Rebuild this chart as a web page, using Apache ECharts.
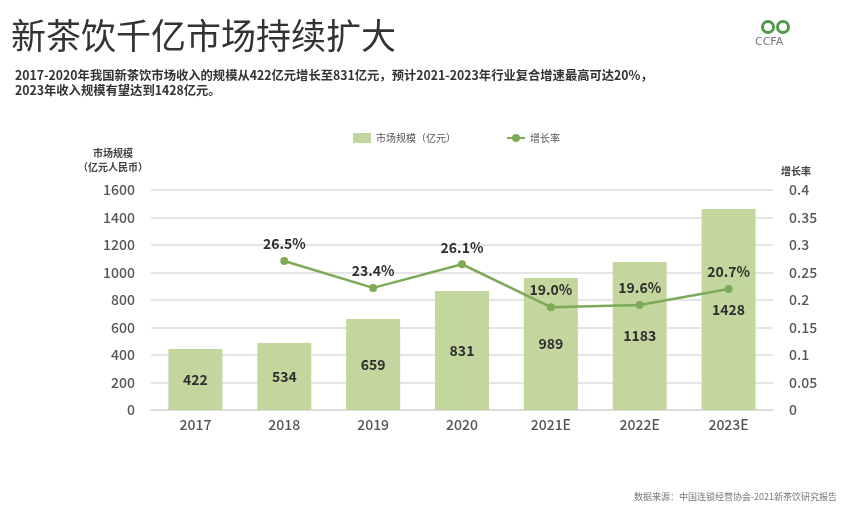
<!DOCTYPE html>
<html><head><meta charset="utf-8">
<script src="https://cdn.jsdelivr.net/npm/echarts@6/dist/echarts.min.js"></script>
<style>html,body{margin:0;padding:0;background:#fff}#c{width:864px;height:512px}</style>
</head><body><div id="c"></div>
<script>
const categories = ['2017','2018','2019','2020','2021E','2022E','2023E'];
// labelled market size values (亿元)
const marketSize = [422, 534, 659, 831, 989, 1183, 1428];
// bar heights as drawn in the picture
const barHeight = [444, 487, 662, 865, 960, 1076, 1462];
// growth rate labels and drawn point positions
const growthLabel = [null, '26.5%', '23.4%', '26.1%', '19.0%', '19.6%', '20.7%'];
const growthPoint = [null, 0.271, 0.222, 0.265, 0.187, 0.191, 0.220];
const leftTicks = [0, 200, 400, 600, 800, 1000, 1200, 1400, 1600];
const rightTicks = [0, 0.05, 0.1, 0.15, 0.2, 0.25, 0.3, 0.35, 0.4];

const chart = echarts.init(document.getElementById('c'));
const font = '"Noto Sans CJK SC", "Noto Sans", sans-serif';
chart.setOption({
  backgroundColor: '#fff',
  textStyle: { fontFamily: font },
  animation: false,
  title: [
    { text: '新茶饮千亿市场持续扩大', left: 6, top: 13,
      textStyle: { fontSize: 35, fontWeight: 'normal', color: '#333', fontFamily: font } },
    { text: '2017-2020年我国新茶饮市场收入的规模从422亿元增长至831亿元，预计2021-2023年行业复合增速最高可达20%，\n2023年收入规模有望达到1428亿元。',
      left: 10, top: 63,
      textStyle: { fontSize: 12.3, fontWeight: 'bold', color: '#333', lineHeight: 15, fontFamily: font } },
    { text: '数据来源：中国连锁经营协会-2021新茶饮研究报告', right: 22, top: 487,
      textStyle: { fontSize: 9, fontWeight: 'normal', color: '#777', fontFamily: font } }
  ],
  legend: {
    top: 128, left: 348, itemGap: 50, itemWidth: 18, itemHeight: 10,
    textStyle: { fontSize: 10, color: '#555' },
    data: [
      { name: '市场规模（亿元）', icon: 'rect' },
      { name: '增长率' }
    ]
  },
  grid: { left: 151, right: 91, top: 190, bottom: 102 },
  xAxis: {
    type: 'category', data: categories,
    axisLine: { show: true, lineStyle: { color: '#d8d8d8', width: 1.5 } },
    axisTick: { show: false },
    axisLabel: { fontSize: 14, color: '#555', margin: 8, fontWeight: 500 }
  },
  yAxis: [
    { type: 'value', min: 0, max: 1600, interval: 200,
      name: '市场规模\n（亿元人民币）', nameLocation: 'end', nameGap: 16,
      nameTextStyle: { fontSize: 10, fontWeight: 'bold', color: '#444', align: 'center', padding: [0, 0, 0, -76], lineHeight: 14 },
      axisLine: { show: false }, axisTick: { show: false },
      axisLabel: { fontSize: 14, color: '#555', margin: 16, fontWeight: 500,
        formatter: v => String(v) },
      splitLine: { lineStyle: { color: '#dcdcdc', width: 1.5 } } },
    { type: 'value', min: 0, max: 0.4, interval: 0.05,
      name: '增长率', nameLocation: 'end', nameGap: 14,
      nameTextStyle: { fontSize: 10, fontWeight: 'bold', color: '#444', align: 'left', padding: [0, 0, 0, 8] },
      axisLine: { show: false }, axisTick: { show: false },
      axisLabel: { fontSize: 14, color: '#555', margin: 16, fontWeight: 500,
        formatter: v => String(+v.toFixed(2)) },
      splitLine: { show: false } }
  ],
  series: [
    { name: '市场规模（亿元）', type: 'bar', barWidth: 54, yAxisIndex: 0,
      itemStyle: { color: '#c3d69d' },
      data: barHeight,
      label: { show: true, position: 'inside', fontSize: 14, fontWeight: 'bold', color: '#2e2e2e',
        formatter: p => String(marketSize[p.dataIndex]) } },
    { name: '增长率', type: 'line', yAxisIndex: 1,
      data: growthPoint, symbol: 'circle', symbolSize: 8,
      lineStyle: { color: '#7caa58', width: 2.5 }, itemStyle: { color: '#7caa58' },
      label: { show: true, position: 'top', distance: 6, fontSize: 14, fontWeight: 'bold', color: '#2e2e2e',
        formatter: p => growthLabel[p.dataIndex] || '' } }
  ],
  graphic: [
    { type: 'ring', shape: { cx: 768, cy: 27, r: 7, r0: 4 }, style: { fill: '#4f9a4a' } },
    { type: 'ring', shape: { cx: 783, cy: 27, r: 7, r0: 4 }, style: { fill: '#4f9a4a' } },
    { type: 'text', left: 755, top: 37, style: { text: 'CCFA', fontSize: 11, fill: '#777', fontFamily: 'DejaVu Sans' } }
  ]
});
</script>
</body></html>
